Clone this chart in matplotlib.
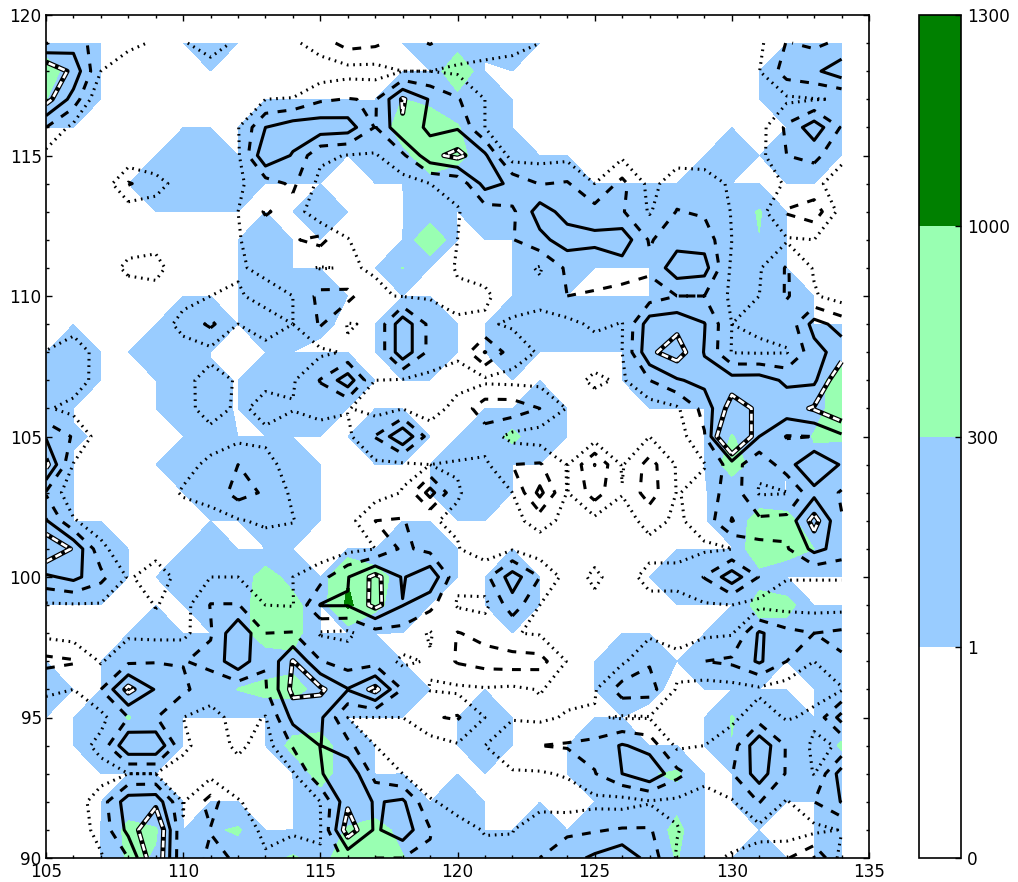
"""Filled field with four line contours of a second field over it, x 105-134, y 90-119."""

import numpy as np
import matplotlib
matplotlib.use("Agg")
import matplotlib.pyplot as plt

x_values = np.arange(105, 135)
y_values = np.arange(119, 89, -1)

fill_levels = [0, 1, 300, 1000, 1300]
fill_colors = ["#ffffff", "#99ccff", "#99ffb2", "#008000"]
line_levels = [1, 2, 3, 4]

# filled field, top row is y=119, columns x=105..134
fill_rows = [
    [100,100,0,0,0,0,100,0,0,0,0,0,0,0,100,100,3,100,0,0,0,0,0,0,0,0,0,0,100,100],
    [500,100,0,0,0,0,0,0,0,0,0,0,0,0,0,700,0,0,0,0,0,0,0,0,0,0,0,100,100,100],
    [305,100,0,0,0,0,0,0,0,0,0,0,0,310,180,150,100,0,0,0,0,0,0,0,0,0,0,100,100,100],
    [0,0,0,0,0,0,0,0,100,100,100,100,20,500,600,320,100,0,0,0,0,0,0,0,0,0,0,0,100,100],
    [0,0,0,0,0,100,100,0,100,100,100,0,100,200,520,450,45,100,0,0,0,0,0,0,0,100,0,100,100,0],
    [0,0,0,0,100,100,100,100,0,0,0,0,0,0,176,0,100,100,100,100,0,0,0,0,100,0,0,0,0,0],
    [0,0,0,0,0,0,0,0,0,0,100,0,0,0,30,0,100,100,0,100,100,100,100,100,100,100,330,0,0,0],
    [0,0,0,0,0,0,0,0,100,0,0,0,0,0,700,0,0,0,100,100,100,100,100,100,100,100,290,0,0,0],
    [0,0,0,0,0,0,0,0,100,0,0,0,0,310,0,0,0,0,100,100,0,0,0,100,100,0,100,0,0,0],
    [0,0,0,0,0,0,0,0,100,100,100,0,0,0,0,0,0,0,100,0,0,0,0,100,100,0,100,100,0,0],
    [0,0,0,0,0,100,100,0,100,100,2,0,0,100,100,0,0,100,100,100,100,100,100,100,0,100,100,100,0,0],
    [0,100,0,0,100,100,0,0,0,0,0,0,0,100,100,0,0,100,0,0,0,0,100,100,100,100,0,0,100,65],
    [0,100,0,0,0,100,5,0,100,100,100,100,0,0,0,0,0,0,0,0,0,0,100,100,100,100,100,100,155,500],
    [100,0,0,0,0,100,5,0,100,100,100,0,0,0,0,0,0,0,100,0,0,0,0,0,0,100,100,100,155,500],
    [100,2,0,0,0,0,100,0,0,0,0,0,100,100,0,0,70,400,70,0,0,0,0,0,0,320,100,0,330,330],
    [100,0,0,0,0,100,100,100,100,100,0,0,0,0,0,100,100,0,0,0,0,0,0,0,0,500,100,0,200,150],
    [100,0,0,0,0,0,100,100,100,100,0,0,0,0,0,100,100,0,0,0,0,0,0,0,0,10,10,0,100,100],
    [100,0,0,0,0,0,0,0,100,100,0,0,0,0,0,0,0,0,0,0,0,0,0,0,0,10,520,450,20,100],
    [100,100,100,0,0,0,100,0,0,0,0,0,0,100,100,0,0,0,0,0,0,0,0,0,0,0,600,500,300,100],
    [100,100,100,0,0,100,100,50,490,145,0,950,500,100,100,0,0,100,0,0,0,0,0,100,100,100,160,0,0,0],
    [0,0,0,0,0,0,100,100,550,450,0,1150,400,100,0,0,0,100,0,0,0,0,0,0,0,0,450,440,0,0],
    [0,0,0,0,100,0,0,100,550,450,0,0,0,0,0,0,0,0,0,0,0,0,0,0,0,100,124,120,100,100],
    [0,0,0,100,100,100,100,100,50,200,100,100,100,0,0,0,0,0,0,0,0,100,100,0,100,100,100,0,100,100],
    [100,0,0,100,100,100,100,310,430,420,180,100,100,100,0,0,0,0,0,0,0,100,2,0,0,0,0,0,0,100],
    [0,0,100,320,100,0,0,0,0,60,65,0,0,0,0,0,100,0,0,0,0,0,0,0,0,320,100,100,0,100],
    [0,0,100,100,100,0,0,0,0,430,500,50,0,0,0,0,100,0,0,0,100,100,0,0,0,290,100,100,100,340],
    [0,0,0,0,0,0,0,0,0,0,480,60,0,0,0,0,0,0,0,0,100,100,280,340,0,0,100,100,100,100],
    [0,0,0,100,100,0,0,0,0,0,100,100,80,100,0,100,0,0,0,0,0,0,100,200,0,0,100,0,0,100],
    [0,0,0,400,320,0,255,340,0,0,100,330,450,190,100,100,0,0,100,0,100,100,100,400,0,0,0,0,0,100],
    [0,0,0,350,280,0,100,150,200,340,180,500,500,320,100,100,100,100,100,100,100,100,100,320,0,0,100,0,0,100],
]

# line field, same grid, contoured at line_levels
line_rows = [
    [1.95,2.6,1.4,1.2,.9,.9,1.5,.8,.5,.8,1.5,2.4,2.2,1.6,2.05,1.5,1.6,1.4,1.0,.5,.2,.2,.2,.2,.2,.2,.8,2.05,1.8,2.2],
    [5,3.7,1,.5,.3,.3,.5,.3,.2,.2,.4,.6,.6,1.0,1.0,.85,.6,.5,.3,.2,.2,.2,.2,.2,.2,.2,.98,2.5,2.8,3.6],
    [4.4,2.6,0,0,0,0,0,.4,1.0,1.05,1.85,2.05,1.9,4.1,2.9,2.1,1.0,.5,.2,.2,.2,.2,.2,.2,.2,.2,.7,.8,.95,1.05],
    [2.0,.7,0,0,0,0,0,.95,3.0,3.6,3.6,3.5,1.95,3.9,2.7,2.9,1.0,.5,.2,.2,.2,.2,.2,.2,.2,.2,.6,2.2,3.6,1.9],
    [.7,.2,.2,.2,.2,.2,.2,.85,3.9,2.9,1.2,.95,.9,1.8,3.7,4.3,3.2,.47,.6,.7,.5,.8,.3,.6,.7,.3,.7,2.0,2.3,1.2],
    [.2,.2,.2,2.1,1.4,.5,.2,.85,1.5,2.2,.7,.3,.5,.6,1.0,1.2,3.4,2.8,1.95,2.1,1.0,2.3,.7,1.5,1.3,.9,.5,1.1,1.2,.6],
    [.2,.2,.2,.4,.5,.2,.2,1.0,2.1,1.6,.2,.3,.3,.3,.6,.95,1.5,1.8,3.5,2.6,2.4,2.1,.9,2.05,1.85,.95,.6,2.1,2.6,.6],
    [.2,.2,.2,.6,.6,.2,.3,.95,1.4,1.9,2.3,1.05,.3,.3,.3,1.0,1.3,1.95,2.7,3.5,3.3,3.6,1.9,2.6,2.6,1.0,.7,.9,1.0,.2],
    [.2,.2,.5,1.2,1.4,.2,.4,.9,1.2,1.2,.95,1.05,.95,.3,.3,1.1,1.2,1.4,.9,2.2,2.2,2.55,2.2,3.6,3.4,.8,.9,2.1,.9,.2],
    [.2,.2,.2,.5,.5,.7,1.0,1.1,.7,1.0,2.3,2.3,1.1,.95,.9,.8,.9,1.3,1.3,2.0,1.95,1.6,1.5,2.0,2.0,.8,1.0,2.1,1.1,.5],
    [.2,.7,.3,.3,.5,1.3,2.2,1.0,1.4,1.0,2.1,.95,1.1,3.7,1.7,1.1,1.1,.9,.7,.7,1.2,.95,3.6,3.7,3.05,1.0,1.1,1.26,3.4,2.6],
    [1.05,1.4,.7,.3,.3,.6,.7,.5,.7,.8,.8,1.1,1.1,3.7,1.7,1.14,3.05,1.46,.9,.3,.5,1.0,3.8,4.5,2.95,.95,.9,.95,2.6,3.5],
    [1.05,1.5,.6,.3,.4,.7,1.4,.9,.8,.9,2.05,3.6,1.0,.9,.7,.7,.77,.7,.7,.6,1.2,.85,2.0,2.9,3.3,3.45,3.5,2.8,2.8,5],
    [1.1,.7,.3,.2,.3,.6,1.5,.8,1.3,1.05,1.5,1.05,.6,.95,.6,1.3,2.6,2.6,2.0,.95,.5,.3,.5,.85,2.36,4.5,3.8,3.6,4.1,5],
    [2.9,1.9,.5,.2,.2,.3,.6,.7,.8,.5,.3,.8,2.05,3.9,1.5,1.3,1.5,.7,.5,.6,.5,.4,1.0,.5,1.9,6.5,3.0,1.95,2.0,2.8],
    [4.3,.95,.3,.2,.3,.7,1.2,2.0,1.3,.6,.3,.4,.8,.8,1.0,.95,.8,2.0,2.1,.95,3.02,.9,2.4,.9,.95,2.5,1.2,2.6,3.9,2.9],
    [1.9,.3,.1,.2,.5,1.1,1.3,2.4,1.86,.8,.3,.3,.5,1.05,3.4,1.05,.7,1.0,3.3,.95,2.5,1.05,2.5,.95,1.3,2.6,.9,.95,2.7,1.9],
    [3.1,1.1,.4,.2,.2,.5,.7,.9,1.2,1.05,.3,.6,2.0,2.1,1.05,.9,.7,.7,1.4,.7,.7,.6,1.3,.85,1.4,3.05,2.2,2.3,4.4,2.05],
    [5,3.88,1.3,.2,.7,.5,.4,.4,.4,.4,.4,.7,1.0,2.2,1.7,1.05,.5,.9,.4,.3,.7,.3,.7,.9,.85,.98,1.9,1.9,3.3,2.6],
    [2.8,3.3,2.3,.9,1.4,.7,1.0,1.0,.8,1.0,1.6,2.95,4.3,2.9,3.8,1.2,1.7,3.5,2.0,.6,1.15,.6,1.3,1.1,2.05,3.6,1.95,1.05,1.05,1.05],
    [.85,.9,.9,.3,1.05,.6,2.05,2.05,1.0,.95,3.05,3.05,4.3,3.03,2.3,.9,.7,2.6,1.0,.3,.8,.4,.7,.9,.9,1.0,.7,.6,.6,.6],
    [.7,.5,.4,.8,.7,.7,1.9,3.9,2.0,2.05,.9,.8,1.6,1.6,.9,2.05,1.7,1.05,.9,.4,.4,.5,.8,.6,.8,.9,3.15,2.3,2.0,2.2],
    [2.3,2.1,.9,1.8,1.95,1.95,2.3,3.7,2.05,4.05,2.05,1.5,1.6,.8,1.1,2.1,2.4,2.5,2.4,.95,1.0,.8,1.9,1.3,2.0,2.2,3.15,2.0,1.0,1.9],
    [1.1,1.0,2.0,4.3,2.9,2.2,1.4,1.3,1.9,4.3,4.2,3.05,4.3,1.95,.95,.8,.9,.8,1.05,.7,.9,2.5,2.4,.9,.5,.6,.8,.5,.7,.9],
    [.7,.6,.7,2.0,2.05,1.0,.7,1.3,.95,3.3,3.2,1.0,1.0,1.0,1.9,2.1,1.0,.9,.8,1.1,1.1,.9,.95,.7,.9,.8,1.5,.9,1.2,3.4],
    [.3,.5,1.3,3.9,3.9,1.2,.5,1.2,.6,2.1,3.02,2.3,1.0,.6,.5,.9,1.0,1.9,2.0,2.1,2.3,3.1,2.6,.8,1.0,1.5,3.8,1.9,.8,1.1],
    [.2,.3,.6,1.0,1.0,.6,.7,.6,.4,.9,2.9,3.9,1.6,1.0,.4,.4,.5,.85,.9,1.1,1.95,3.0,3.85,2.3,1.4,1.95,3.5,1.9,.95,3.5],
    [.2,.5,1.5,3.6,3.7,.95,2.4,1.05,.7,.8,1.0,3.8,2.9,3.2,1.1,.7,.5,.5,.5,.5,.7,.6,.9,.8,.5,.9,2.05,.9,2.0,3.05],
    [.2,.5,1.3,3.3,5.2,1.05,1.95,1.5,.8,.95,.95,4.6,2.85,3.6,2.05,1.3,.95,.95,1.9,1.8,1.9,2.1,2.1,1.05,.5,.6,.7,.4,.7,1.05],
    [.2,.3,.9,2.0,5.0,1.05,2.3,1.85,1.1,1.2,1.05,2.3,2.0,2.0,1.9,1.6,1.2,1.3,2.0,2.6,3.2,3.8,2.6,.9,.8,1.1,1.4,1.9,3.05,.6],
]

fill_field = np.array(fill_rows, dtype=float)[::-1]
line_field = np.array(line_rows, dtype=float)[::-1]
ys = y_values[::-1]

fig = plt.figure(figsize=(10.18, 8.82), dpi=100)
ax = fig.add_axes([46 / 1018, 1 - 858 / 882, 823 / 1018, 843 / 882])
cax = fig.add_axes([919 / 1018, 1 - 858 / 882, 42 / 1018, 843 / 882])

filled = ax.contourf(x_values, ys, fill_field, levels=fill_levels, colors=fill_colors)

lw = 2.2
ax.contour(x_values, ys, line_field, levels=[line_levels[0]], colors="k",
           linewidths=lw, linestyles=[(0, (0.55, 1.55))])
ax.contour(x_values, ys, line_field, levels=[line_levels[1]], colors="k",
           linewidths=lw, linestyles=[(0, (2.9, 3.1))])
ax.contour(x_values, ys, line_field, levels=[line_levels[2]], colors="k",
           linewidths=lw, linestyles="solid")
# top level: black line with white dashes inside it
ax.contour(x_values, ys, line_field, levels=[line_levels[3]], colors="k",
           linewidths=3.6, linestyles="solid")
ax.contour(x_values, ys, line_field, levels=[line_levels[3]], colors="w",
           linewidths=1.9, linestyles=[(0, (2.6, 1.4))])

ax.set_xlim(105, 135)
ax.set_ylim(90, 120)
ax.set_xticks(np.arange(105, 136, 5))
ax.set_yticks(np.arange(90, 121, 5))
ax.set_xticks(np.arange(105, 136, 1), minor=True)
ax.set_yticks(np.arange(90, 121, 1), minor=True)
ax.tick_params(which="major", direction="in", top=True, right=True, length=4, width=1, labelsize=12.2)
ax.tick_params(which="minor", direction="in", top=True, right=True, length=2.2, width=1)
ax.tick_params(axis="x", pad=3.5)
ax.tick_params(axis="y", pad=3)
for spine in ax.spines.values():
    spine.set_linewidth(1.2)

cbar = fig.colorbar(filled, cax=cax, spacing="uniform")
cbar.set_ticks(fill_levels)
cbar.ax.tick_params(direction="in", length=4, width=1, labelsize=12.2, pad=4.5)
cbar.outline.set_linewidth(1.2)

fig.savefig("out.png", dpi=100)
